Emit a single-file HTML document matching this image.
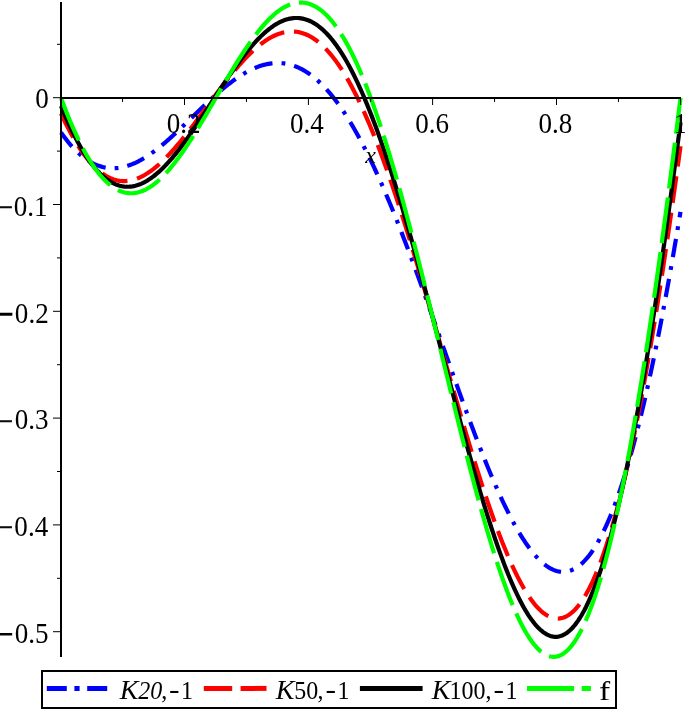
<!DOCTYPE html>
<html><head><meta charset="utf-8"><title>plot</title>
<style>
html,body{margin:0;padding:0;background:#fff;}
body{width:685px;height:709px;overflow:hidden;}
svg{display:block;}
text{font-family:"Liberation Serif","Times New Roman",serif;fill:#000;}
.i{font-style:italic;}
</style></head><body>
<svg width="685" height="709" viewBox="0 0 685 709">
<rect width="685" height="709" fill="#fff"/>

<g fill="none" stroke-linecap="butt" stroke-linejoin="round" stroke-width="4.2">
<path d="M61.00,132.52 L62.55,134.70 L64.10,136.81 L65.65,138.85 L67.19,140.82 L68.74,142.72 L70.29,144.55 L71.84,146.30 L73.39,147.99 L74.94,149.60 L76.49,151.15 L78.04,152.62 L79.59,154.03 L81.13,155.36 L82.68,156.63 L84.23,157.83 L85.78,158.96 L87.33,160.02 L88.88,161.01 L90.43,161.94 L91.97,162.80 L93.52,163.60 L95.07,164.32 L96.62,164.99 L98.17,165.59 L99.72,166.13 L101.27,166.60 L102.82,167.02 L104.37,167.37 L105.91,167.66 L107.46,167.89 L109.01,168.06 L110.56,168.18 L112.11,168.23 L113.66,168.23 L115.21,168.18 L116.75,168.07 L118.30,167.90 L119.85,167.68 L121.40,167.41 L122.95,167.09 L124.50,166.72 L126.05,166.30 L127.60,165.83 L129.14,165.32 L130.69,164.75 L132.24,164.15 L133.79,163.49 L135.34,162.80 L136.89,162.06 L138.44,161.28 L139.99,160.47 L141.53,159.61 L143.08,158.71 L144.63,157.78 L146.18,156.81 L147.73,155.81 L149.28,154.77 L150.83,153.70 L152.38,152.60 L153.93,151.47 L155.47,150.32 L157.02,149.13 L158.57,147.91 L160.12,146.68 L161.67,145.41 L163.22,144.13 L164.77,142.82 L166.31,141.49 L167.86,140.14 L169.41,138.77 L170.96,137.38 L172.51,135.98 L174.06,134.57 L175.61,133.14 L177.16,131.69 L178.70,130.24 L180.25,128.77 L181.80,127.30 L183.35,125.81 L184.90,124.32 L186.45,122.83 L188.00,121.33 L189.55,119.83 L191.09,118.32 L192.64,116.81 L194.19,115.31 L195.74,113.80 L197.29,112.30 L198.84,110.80 L200.39,109.31 L201.94,107.82 L203.49,106.33 L205.03,104.86 L206.58,103.39 L208.13,101.94 L209.68,100.50 L211.23,99.06 L212.78,97.65 L214.33,96.24 L215.88,94.85 L217.42,93.48 L218.97,92.13 L220.52,90.79 L222.07,89.48 L223.62,88.18 L225.17,86.91 L226.72,85.66 L228.27,84.43 L229.81,83.23 L231.36,82.06 L232.91,80.91 L234.46,79.78 L236.01,78.69 L237.56,77.63 L239.11,76.59 L240.66,75.59 L242.20,74.62 L243.75,73.68 L245.30,72.78 L246.85,71.91 L248.40,71.08 L249.95,70.28 L251.50,69.52 L253.04,68.80 L254.59,68.12 L256.14,67.47 L257.69,66.87 L259.24,66.31 L260.79,65.79 L262.34,65.31 L263.89,64.88 L265.44,64.48 L266.98,64.14 L268.53,63.84 L270.08,63.58 L271.63,63.37 L273.18,63.21 L274.73,63.09 L276.28,63.02 L277.83,63.01 L279.37,63.04 L280.92,63.12 L282.47,63.25 L284.02,63.43 L285.57,63.66 L287.12,63.94 L288.67,64.28 L290.22,64.67 L291.76,65.11 L293.31,65.60 L294.86,66.14 L296.41,66.75 L297.96,67.40 L299.51,68.11 L301.06,68.87 L302.61,69.69 L304.15,70.56 L305.70,71.49 L307.25,72.47 L308.80,73.51 L310.35,74.61 L311.90,75.76 L313.45,76.97 L315.00,78.23 L316.54,79.55 L318.09,80.93 L319.64,82.36 L321.19,83.85 L322.74,85.40 L324.29,87.00 L325.84,88.66 L327.38,90.37 L328.93,92.14 L330.48,93.97 L332.03,95.85 L333.58,97.79 L335.13,99.79 L336.68,101.84 L338.23,103.94 L339.78,106.10 L341.32,108.32 L342.87,110.59 L344.42,112.91 L345.97,115.29 L347.52,117.73 L349.07,120.21 L350.62,122.75 L352.17,125.34 L353.71,127.99 L355.26,130.68 L356.81,133.43 L358.36,136.23 L359.91,139.08 L361.46,141.98 L363.01,144.93 L364.56,147.93 L366.10,150.97 L367.65,154.07 L369.20,157.21 L370.75,160.40 L372.30,163.63 L373.85,166.91 L375.40,170.24 L376.94,173.61 L378.49,177.02 L380.04,180.47 L381.59,183.97 L383.14,187.51 L384.69,191.09 L386.24,194.71 L387.79,198.37 L389.34,202.06 L390.88,205.79 L392.43,209.56 L393.98,213.37 L395.53,217.21 L397.08,221.08 L398.63,224.99 L400.18,228.93 L401.73,232.89 L403.27,236.89 L404.82,240.92 L406.37,244.98 L407.92,249.06 L409.47,253.17 L411.02,257.30 L412.57,261.46 L414.12,265.64 L415.66,269.84 L417.21,274.06 L418.76,278.30 L420.31,282.56 L421.86,286.84 L423.41,291.13 L424.96,295.44 L426.50,299.76 L428.05,304.09 L429.60,308.43 L431.15,312.79 L432.70,317.15 L434.25,321.52 L435.80,325.90 L437.35,330.28 L438.89,334.66 L440.44,339.05 L441.99,343.44 L443.54,347.83 L445.09,352.21 L446.64,356.60 L448.19,360.98 L449.74,365.35 L451.29,369.72 L452.83,374.07 L454.38,378.42 L455.93,382.76 L457.48,387.08 L459.03,391.39 L460.58,395.69 L462.13,399.97 L463.68,404.23 L465.22,408.47 L466.77,412.69 L468.32,416.88 L469.87,421.05 L471.42,425.20 L472.97,429.32 L474.52,433.41 L476.06,437.48 L477.61,441.51 L479.16,445.50 L480.71,449.47 L482.26,453.39 L483.81,457.29 L485.36,461.14 L486.91,464.95 L488.46,468.72 L490.00,472.44 L491.55,476.13 L493.10,479.76 L494.65,483.35 L496.20,486.89 L497.75,490.38 L499.30,493.81 L500.84,497.19 L502.39,500.52 L503.94,503.79 L505.49,507.00 L507.04,510.16 L508.59,513.25 L510.14,516.28 L511.69,519.24 L513.24,522.14 L514.78,524.97 L516.33,527.74 L517.88,530.43 L519.43,533.05 L520.98,535.60 L522.53,538.08 L524.08,540.48 L525.62,542.80 L527.17,545.04 L528.72,547.21 L530.27,549.29 L531.82,551.29 L533.37,553.21 L534.92,555.04 L536.47,556.78 L538.01,558.44 L539.56,560.00 L541.11,561.48 L542.66,562.86 L544.21,564.15 L545.76,565.34 L547.31,566.44 L548.86,567.44 L550.40,568.34 L551.95,569.14 L553.50,569.85 L555.05,570.44 L556.60,570.94 L558.15,571.33 L559.70,571.61 L561.25,571.79 L562.80,571.86 L564.34,571.82 L565.89,571.67 L567.44,571.41 L568.99,571.03 L570.54,570.54 L572.09,569.94 L573.64,569.22 L575.19,568.39 L576.73,567.43 L578.28,566.36 L579.83,565.17 L581.38,563.86 L582.93,562.43 L584.48,560.87 L586.03,559.19 L587.57,557.39 L589.12,555.46 L590.67,553.41 L592.22,551.23 L593.77,548.93 L595.32,546.50 L596.87,543.94 L598.42,541.25 L599.97,538.43 L601.51,535.48 L603.06,532.41 L604.61,529.20 L606.16,525.86 L607.71,522.38 L609.26,518.78 L610.81,515.04 L612.36,511.17 L613.90,507.17 L615.45,503.03 L617.00,498.76 L618.55,494.36 L620.10,489.82 L621.65,485.15 L623.20,480.34 L624.75,475.40 L626.29,470.32 L627.84,465.11 L629.39,459.77 L630.94,454.29 L632.49,448.68 L634.04,442.94 L635.59,437.06 L637.13,431.05 L638.68,424.90 L640.23,418.63 L641.78,412.22 L643.33,405.68 L644.88,399.01 L646.43,392.21 L647.98,385.28 L649.53,378.22 L651.07,371.04 L652.62,363.72 L654.17,356.29 L655.72,348.72 L657.27,341.04 L658.82,333.23 L660.37,325.29 L661.91,317.24 L663.46,309.07 L665.01,300.78 L666.56,292.38 L668.11,283.86 L669.66,275.23 L671.21,266.49 L672.76,257.64 L674.30,248.68 L675.85,239.61 L677.40,230.45 L678.95,221.18 L680.50,211.81" stroke="#0000ff" stroke-dasharray="18.5 9.072 3.8 9.072" stroke-dashoffset="0.7"/>
<path d="M61.00,113.47 L62.55,116.80 L64.10,120.05 L65.65,123.22 L67.19,126.30 L68.74,129.31 L70.29,132.24 L71.84,135.08 L73.39,137.83 L74.94,140.50 L76.49,143.09 L78.04,145.59 L79.59,148.00 L81.13,150.33 L82.68,152.57 L84.23,154.73 L85.78,156.79 L87.33,158.77 L88.88,160.67 L90.43,162.47 L91.97,164.19 L93.52,165.83 L95.07,167.37 L96.62,168.84 L98.17,170.21 L99.72,171.51 L101.27,172.71 L102.82,173.84 L104.37,174.88 L105.91,175.83 L107.46,176.71 L109.01,177.50 L110.56,178.21 L112.11,178.84 L113.66,179.39 L115.21,179.86 L116.75,180.26 L118.30,180.57 L119.85,180.81 L121.40,180.97 L122.95,181.06 L124.50,181.08 L126.05,181.02 L127.60,180.89 L129.14,180.68 L130.69,180.41 L132.24,180.07 L133.79,179.66 L135.34,179.18 L136.89,178.64 L138.44,178.03 L139.99,177.36 L141.53,176.63 L143.08,175.83 L144.63,174.98 L146.18,174.06 L147.73,173.09 L149.28,172.06 L150.83,170.98 L152.38,169.84 L153.93,168.65 L155.47,167.41 L157.02,166.12 L158.57,164.78 L160.12,163.39 L161.67,161.96 L163.22,160.48 L164.77,158.96 L166.31,157.40 L167.86,155.80 L169.41,154.16 L170.96,152.48 L172.51,150.77 L174.06,149.02 L175.61,147.24 L177.16,145.43 L178.70,143.59 L180.25,141.72 L181.80,139.83 L183.35,137.91 L184.90,135.96 L186.45,134.00 L188.00,132.01 L189.55,130.01 L191.09,127.98 L192.64,125.95 L194.19,123.90 L195.74,121.83 L197.29,119.76 L198.84,117.67 L200.39,115.58 L201.94,113.48 L203.49,111.37 L205.03,109.27 L206.58,107.16 L208.13,105.05 L209.68,102.94 L211.23,100.84 L212.78,98.74 L214.33,96.65 L215.88,94.56 L217.42,92.48 L218.97,90.42 L220.52,88.37 L222.07,86.33 L223.62,84.30 L225.17,82.30 L226.72,80.31 L228.27,78.34 L229.81,76.40 L231.36,74.47 L232.91,72.57 L234.46,70.70 L236.01,68.85 L237.56,67.04 L239.11,65.25 L240.66,63.49 L242.20,61.77 L243.75,60.08 L245.30,58.43 L246.85,56.82 L248.40,55.24 L249.95,53.70 L251.50,52.20 L253.04,50.75 L254.59,49.34 L256.14,47.97 L257.69,46.65 L259.24,45.38 L260.79,44.15 L262.34,42.98 L263.89,41.86 L265.44,40.78 L266.98,39.76 L268.53,38.80 L270.08,37.89 L271.63,37.03 L273.18,36.24 L274.73,35.50 L276.28,34.82 L277.83,34.20 L279.37,33.64 L280.92,33.15 L282.47,32.71 L284.02,32.35 L285.57,32.04 L287.12,31.80 L288.67,31.63 L290.22,31.52 L291.76,31.48 L293.31,31.51 L294.86,31.61 L296.41,31.78 L297.96,32.02 L299.51,32.33 L301.06,32.71 L302.61,33.17 L304.15,33.69 L305.70,34.29 L307.25,34.97 L308.80,35.71 L310.35,36.54 L311.90,37.43 L313.45,38.40 L315.00,39.45 L316.54,40.57 L318.09,41.77 L319.64,43.05 L321.19,44.40 L322.74,45.82 L324.29,47.33 L325.84,48.91 L327.38,50.57 L328.93,52.30 L330.48,54.11 L332.03,56.00 L333.58,57.97 L335.13,60.01 L336.68,62.13 L338.23,64.32 L339.78,66.59 L341.32,68.94 L342.87,71.36 L344.42,73.86 L345.97,76.44 L347.52,79.09 L349.07,81.81 L350.62,84.61 L352.17,87.48 L353.71,90.42 L355.26,93.44 L356.81,96.53 L358.36,99.69 L359.91,102.92 L361.46,106.23 L363.01,109.60 L364.56,113.04 L366.10,116.55 L367.65,120.13 L369.20,123.77 L370.75,127.49 L372.30,131.26 L373.85,135.10 L375.40,139.01 L376.94,142.98 L378.49,147.01 L380.04,151.10 L381.59,155.25 L383.14,159.46 L384.69,163.72 L386.24,168.05 L387.79,172.42 L389.34,176.86 L390.88,181.34 L392.43,185.88 L393.98,190.47 L395.53,195.11 L397.08,199.80 L398.63,204.53 L400.18,209.31 L401.73,214.14 L403.27,219.00 L404.82,223.91 L406.37,228.86 L407.92,233.85 L409.47,238.87 L411.02,243.93 L412.57,249.03 L414.12,254.16 L415.66,259.32 L417.21,264.50 L418.76,269.72 L420.31,274.96 L421.86,280.23 L423.41,285.52 L424.96,290.83 L426.50,296.16 L428.05,301.51 L429.60,306.88 L431.15,312.26 L432.70,317.65 L434.25,323.05 L435.80,328.47 L437.35,333.89 L438.89,339.31 L440.44,344.74 L441.99,350.17 L443.54,355.60 L445.09,361.03 L446.64,366.46 L448.19,371.87 L449.74,377.28 L451.29,382.69 L452.83,388.08 L454.38,393.45 L455.93,398.81 L457.48,404.15 L459.03,409.48 L460.58,414.78 L462.13,420.06 L463.68,425.31 L465.22,430.54 L466.77,435.73 L468.32,440.90 L469.87,446.03 L471.42,451.12 L472.97,456.18 L474.52,461.20 L476.06,466.17 L477.61,471.10 L479.16,475.99 L480.71,480.83 L482.26,485.62 L483.81,490.35 L485.36,495.04 L486.91,499.66 L488.46,504.23 L490.00,508.74 L491.55,513.19 L493.10,517.57 L494.65,521.88 L496.20,526.13 L497.75,530.31 L499.30,534.42 L500.84,538.45 L502.39,542.40 L503.94,546.28 L505.49,550.08 L507.04,553.79 L508.59,557.42 L510.14,560.97 L511.69,564.43 L513.24,567.80 L514.78,571.07 L516.33,574.26 L517.88,577.35 L519.43,580.34 L520.98,583.23 L522.53,586.02 L524.08,588.71 L525.62,591.30 L527.17,593.77 L528.72,596.14 L530.27,598.41 L531.82,600.56 L533.37,602.59 L534.92,604.52 L536.47,606.32 L538.01,608.01 L539.56,609.58 L541.11,611.03 L542.66,612.35 L544.21,613.56 L545.76,614.63 L547.31,615.58 L548.86,616.40 L550.40,617.09 L551.95,617.65 L553.50,618.08 L555.05,618.37 L556.60,618.53 L558.15,618.55 L559.70,618.43 L561.25,618.18 L562.80,617.78 L564.34,617.25 L565.89,616.57 L567.44,615.74 L568.99,614.78 L570.54,613.66 L572.09,612.40 L573.64,611.00 L575.19,609.44 L576.73,607.74 L578.28,605.88 L579.83,603.88 L581.38,601.72 L582.93,599.41 L584.48,596.94 L586.03,594.33 L587.57,591.56 L589.12,588.63 L590.67,585.55 L592.22,582.31 L593.77,578.91 L595.32,575.36 L596.87,571.65 L598.42,567.79 L599.97,563.76 L601.51,559.58 L603.06,555.24 L604.61,550.74 L606.16,546.08 L607.71,541.26 L609.26,536.29 L610.81,531.15 L612.36,525.86 L613.90,520.41 L615.45,514.80 L617.00,509.03 L618.55,503.10 L620.10,497.02 L621.65,490.77 L623.20,484.37 L624.75,477.82 L626.29,471.11 L627.84,464.24 L629.39,457.21 L630.94,450.04 L632.49,442.71 L634.04,435.22 L635.59,427.59 L637.13,419.80 L638.68,411.86 L640.23,403.77 L641.78,395.54 L643.33,387.15 L644.88,378.62 L646.43,369.95 L647.98,361.13 L649.53,352.17 L651.07,343.07 L652.62,333.83 L654.17,324.46 L655.72,314.95 L657.27,305.30 L658.82,295.52 L660.37,285.62 L661.91,275.58 L663.46,265.42 L665.01,255.14 L666.56,244.74 L668.11,234.22 L669.66,223.59 L671.21,212.85 L672.76,202.01 L674.30,191.06 L675.85,180.01 L677.40,168.87 L678.95,157.64 L680.50,146.32" stroke="#ff0000" stroke-dasharray="26.9 9.86"/>
<path d="M61.00,105.98 L62.55,109.72 L64.10,113.38 L65.65,116.96 L67.19,120.45 L68.74,123.86 L70.29,127.19 L71.84,130.42 L73.39,133.57 L74.94,136.63 L76.49,139.60 L78.04,142.47 L79.59,145.26 L81.13,147.96 L82.68,150.56 L84.23,153.08 L85.78,155.50 L87.33,157.83 L88.88,160.06 L90.43,162.21 L91.97,164.26 L93.52,166.22 L95.07,168.09 L96.62,169.87 L98.17,171.56 L99.72,173.15 L101.27,174.66 L102.82,176.07 L104.37,177.39 L105.91,178.63 L107.46,179.77 L109.01,180.82 L110.56,181.79 L112.11,182.67 L113.66,183.46 L115.21,184.17 L116.75,184.78 L118.30,185.32 L119.85,185.76 L121.40,186.13 L122.95,186.41 L124.50,186.61 L126.05,186.72 L127.60,186.76 L129.14,186.71 L130.69,186.59 L132.24,186.39 L133.79,186.11 L135.34,185.76 L136.89,185.33 L138.44,184.83 L139.99,184.25 L141.53,183.60 L143.08,182.88 L144.63,182.10 L146.18,181.24 L147.73,180.32 L149.28,179.33 L150.83,178.28 L152.38,177.16 L153.93,175.99 L155.47,174.75 L157.02,173.45 L158.57,172.10 L160.12,170.69 L161.67,169.22 L163.22,167.71 L164.77,166.14 L166.31,164.52 L167.86,162.85 L169.41,161.13 L170.96,159.37 L172.51,157.56 L174.06,155.71 L175.61,153.82 L177.16,151.89 L178.70,149.93 L180.25,147.92 L181.80,145.88 L183.35,143.81 L184.90,141.71 L186.45,139.58 L188.00,137.42 L189.55,135.24 L191.09,133.03 L192.64,130.79 L194.19,128.54 L195.74,126.27 L197.29,123.98 L198.84,121.67 L200.39,119.35 L201.94,117.02 L203.49,114.68 L205.03,112.33 L206.58,109.97 L208.13,107.60 L209.68,105.24 L211.23,102.87 L212.78,100.50 L214.33,98.13 L215.88,95.77 L217.42,93.41 L218.97,91.06 L220.52,88.71 L222.07,86.38 L223.62,84.06 L225.17,81.75 L226.72,79.46 L228.27,77.19 L229.81,74.93 L231.36,72.70 L232.91,70.49 L234.46,68.30 L236.01,66.14 L237.56,64.01 L239.11,61.90 L240.66,59.83 L242.20,57.79 L243.75,55.78 L245.30,53.81 L246.85,51.87 L248.40,49.98 L249.95,48.12 L251.50,46.31 L253.04,44.54 L254.59,42.81 L256.14,41.13 L257.69,39.50 L259.24,37.92 L260.79,36.38 L262.34,34.90 L263.89,33.47 L265.44,32.10 L266.98,30.78 L268.53,29.52 L270.08,28.32 L271.63,27.18 L273.18,26.10 L274.73,25.08 L276.28,24.13 L277.83,23.24 L279.37,22.41 L280.92,21.65 L282.47,20.97 L284.02,20.34 L285.57,19.79 L287.12,19.31 L288.67,18.91 L290.22,18.57 L291.76,18.31 L293.31,18.12 L294.86,18.01 L296.41,17.98 L297.96,18.02 L299.51,18.14 L301.06,18.34 L302.61,18.61 L304.15,18.97 L305.70,19.41 L307.25,19.93 L308.80,20.53 L310.35,21.21 L311.90,21.98 L313.45,22.83 L315.00,23.76 L316.54,24.78 L318.09,25.88 L319.64,27.06 L321.19,28.34 L322.74,29.69 L324.29,31.13 L325.84,32.66 L327.38,34.27 L328.93,35.97 L330.48,37.75 L332.03,39.62 L333.58,41.58 L335.13,43.62 L336.68,45.75 L338.23,47.96 L339.78,50.26 L341.32,52.64 L342.87,55.11 L344.42,57.67 L345.97,60.30 L347.52,63.03 L349.07,65.83 L350.62,68.72 L352.17,71.70 L353.71,74.75 L355.26,77.89 L356.81,81.11 L358.36,84.41 L359.91,87.79 L361.46,91.25 L363.01,94.78 L364.56,98.40 L366.10,102.09 L367.65,105.86 L369.20,109.71 L370.75,113.63 L372.30,117.62 L373.85,121.69 L375.40,125.83 L376.94,130.04 L378.49,134.32 L380.04,138.67 L381.59,143.09 L383.14,147.57 L384.69,152.12 L386.24,156.73 L387.79,161.41 L389.34,166.15 L390.88,170.94 L392.43,175.80 L393.98,180.72 L395.53,185.69 L397.08,190.71 L398.63,195.79 L400.18,200.92 L401.73,206.10 L403.27,211.33 L404.82,216.61 L406.37,221.93 L407.92,227.29 L409.47,232.70 L411.02,238.15 L412.57,243.64 L414.12,249.16 L415.66,254.72 L417.21,260.31 L418.76,265.94 L420.31,271.59 L421.86,277.27 L423.41,282.98 L424.96,288.71 L426.50,294.47 L428.05,300.24 L429.60,306.04 L431.15,311.85 L432.70,317.67 L434.25,323.50 L435.80,329.35 L437.35,335.20 L438.89,341.07 L440.44,346.93 L441.99,352.79 L443.54,358.66 L445.09,364.52 L446.64,370.38 L448.19,376.23 L449.74,382.08 L451.29,387.91 L452.83,393.73 L454.38,399.53 L455.93,405.31 L457.48,411.08 L459.03,416.82 L460.58,422.54 L462.13,428.23 L463.68,433.89 L465.22,439.52 L466.77,445.12 L468.32,450.68 L469.87,456.20 L471.42,461.68 L472.97,467.12 L474.52,472.52 L476.06,477.87 L477.61,483.16 L479.16,488.41 L480.71,493.60 L482.26,498.74 L483.81,503.81 L485.36,508.83 L486.91,513.78 L488.46,518.67 L490.00,523.49 L491.55,528.23 L493.10,532.91 L494.65,537.51 L496.20,542.04 L497.75,546.49 L499.30,550.85 L500.84,555.13 L502.39,559.33 L503.94,563.44 L505.49,567.46 L507.04,571.39 L508.59,575.22 L510.14,578.96 L511.69,582.59 L513.24,586.13 L514.78,589.57 L516.33,592.90 L517.88,596.13 L519.43,599.24 L520.98,602.25 L522.53,605.14 L524.08,607.92 L525.62,610.59 L527.17,613.13 L528.72,615.56 L530.27,617.86 L531.82,620.04 L533.37,622.10 L534.92,624.03 L536.47,625.83 L538.01,627.50 L539.56,629.04 L541.11,630.44 L542.66,631.71 L544.21,632.84 L545.76,633.83 L547.31,634.69 L548.86,635.40 L550.40,635.97 L551.95,636.39 L553.50,636.67 L555.05,636.80 L556.60,636.79 L558.15,636.62 L559.70,636.31 L561.25,635.84 L562.80,635.22 L564.34,634.45 L565.89,633.52 L567.44,632.43 L568.99,631.19 L570.54,629.79 L572.09,628.23 L573.64,626.51 L575.19,624.63 L576.73,622.59 L578.28,620.39 L579.83,618.02 L581.38,615.49 L582.93,612.80 L584.48,609.94 L586.03,606.92 L587.57,603.73 L589.12,600.37 L590.67,596.85 L592.22,593.17 L593.77,589.31 L595.32,585.29 L596.87,581.10 L598.42,576.75 L599.97,572.23 L601.51,567.54 L603.06,562.68 L604.61,557.66 L606.16,552.46 L607.71,547.11 L609.26,541.58 L610.81,535.89 L612.36,530.03 L613.90,524.01 L615.45,517.82 L617.00,511.47 L618.55,504.95 L620.10,498.27 L621.65,491.42 L623.20,484.42 L624.75,477.25 L626.29,469.92 L627.84,462.43 L629.39,454.78 L630.94,446.98 L632.49,439.01 L634.04,430.89 L635.59,422.62 L637.13,414.19 L638.68,405.61 L640.23,396.88 L641.78,388.00 L643.33,378.97 L644.88,369.79 L646.43,360.47 L647.98,351.00 L649.53,341.39 L651.07,331.64 L652.62,321.75 L654.17,311.72 L655.72,301.56 L657.27,291.27 L658.82,280.84 L660.37,270.28 L661.91,259.60 L663.46,248.79 L665.01,237.86 L666.56,226.81 L668.11,215.64 L669.66,204.36 L671.21,192.97 L672.76,181.48 L674.30,169.88 L675.85,158.19 L677.40,146.40 L678.95,134.53 L680.50,122.59" stroke="#000000"/>
<path d="M61.00,97.90 L62.55,102.05 L64.10,106.12 L65.65,110.10 L67.19,113.99 L68.74,117.80 L70.29,121.52 L71.84,125.15 L73.39,128.69 L74.94,132.13 L76.49,135.49 L78.04,138.76 L79.59,141.93 L81.13,145.01 L82.68,147.99 L84.23,150.88 L85.78,153.68 L87.33,156.38 L88.88,158.98 L90.43,161.49 L91.97,163.91 L93.52,166.22 L95.07,168.45 L96.62,170.57 L98.17,172.60 L99.72,174.53 L101.27,176.37 L102.82,178.11 L104.37,179.75 L105.91,181.30 L107.46,182.75 L109.01,184.11 L110.56,185.37 L112.11,186.53 L113.66,187.60 L115.21,188.58 L116.75,189.46 L118.30,190.25 L119.85,190.95 L121.40,191.55 L122.95,192.06 L124.50,192.48 L126.05,192.81 L127.60,193.06 L129.14,193.21 L130.69,193.27 L132.24,193.25 L133.79,193.14 L135.34,192.94 L136.89,192.66 L138.44,192.30 L139.99,191.85 L141.53,191.32 L143.08,190.72 L144.63,190.03 L146.18,189.26 L147.73,188.42 L149.28,187.50 L150.83,186.51 L152.38,185.44 L153.93,184.30 L155.47,183.09 L157.02,181.82 L158.57,180.47 L160.12,179.06 L161.67,177.58 L163.22,176.04 L164.77,174.44 L166.31,172.77 L167.86,171.05 L169.41,169.27 L170.96,167.43 L172.51,165.54 L174.06,163.60 L175.61,161.61 L177.16,159.57 L178.70,157.48 L180.25,155.35 L181.80,153.17 L183.35,150.95 L184.90,148.69 L186.45,146.39 L188.00,144.05 L189.55,141.68 L191.09,139.28 L192.64,136.84 L194.19,134.38 L195.74,131.89 L197.29,129.37 L198.84,126.83 L200.39,124.27 L201.94,121.69 L203.49,119.09 L205.03,116.48 L206.58,113.85 L208.13,111.21 L209.68,108.56 L211.23,105.90 L212.78,103.24 L214.33,100.57 L215.88,97.90 L217.42,95.23 L218.97,92.56 L220.52,89.90 L222.07,87.24 L223.62,84.59 L225.17,81.95 L226.72,79.32 L228.27,76.71 L229.81,74.11 L231.36,71.53 L232.91,68.97 L234.46,66.43 L236.01,63.91 L237.56,61.42 L239.11,58.96 L240.66,56.52 L242.20,54.12 L243.75,51.75 L245.30,49.41 L246.85,47.11 L248.40,44.85 L249.95,42.63 L251.50,40.45 L253.04,38.32 L254.59,36.23 L256.14,34.19 L257.69,32.20 L259.24,30.26 L260.79,28.37 L262.34,26.53 L263.89,24.75 L265.44,23.03 L266.98,21.36 L268.53,19.76 L270.08,18.22 L271.63,16.74 L273.18,15.33 L274.73,13.98 L276.28,12.71 L277.83,11.50 L279.37,10.36 L280.92,9.29 L282.47,8.30 L284.02,7.38 L285.57,6.54 L287.12,5.77 L288.67,5.08 L290.22,4.48 L291.76,3.95 L293.31,3.50 L294.86,3.14 L296.41,2.86 L297.96,2.66 L299.51,2.55 L301.06,2.53 L302.61,2.59 L304.15,2.74 L305.70,2.99 L307.25,3.32 L308.80,3.74 L310.35,4.25 L311.90,4.85 L313.45,5.55 L315.00,6.34 L316.54,7.22 L318.09,8.20 L319.64,9.27 L321.19,10.43 L322.74,11.69 L324.29,13.05 L325.84,14.50 L327.38,16.05 L328.93,17.69 L330.48,19.43 L332.03,21.27 L333.58,23.20 L335.13,25.23 L336.68,27.35 L338.23,29.58 L339.78,31.89 L341.32,34.31 L342.87,36.82 L344.42,39.42 L345.97,42.12 L347.52,44.92 L349.07,47.81 L350.62,50.79 L352.17,53.87 L353.71,57.04 L355.26,60.31 L356.81,63.67 L358.36,67.11 L359.91,70.65 L361.46,74.28 L363.01,78.00 L364.56,81.81 L366.10,85.70 L367.65,89.68 L369.20,93.75 L370.75,97.90 L372.30,102.14 L373.85,106.45 L375.40,110.85 L376.94,115.34 L378.49,119.90 L380.04,124.53 L381.59,129.25 L383.14,134.04 L384.69,138.91 L386.24,143.84 L387.79,148.85 L389.34,153.93 L390.88,159.08 L392.43,164.30 L393.98,169.58 L395.53,174.92 L397.08,180.33 L398.63,185.80 L400.18,191.33 L401.73,196.91 L403.27,202.55 L404.82,208.24 L406.37,213.98 L407.92,219.78 L409.47,225.62 L411.02,231.51 L412.57,237.44 L414.12,243.41 L415.66,249.43 L417.21,255.48 L418.76,261.57 L420.31,267.69 L421.86,273.84 L423.41,280.02 L424.96,286.23 L426.50,292.47 L428.05,298.73 L429.60,305.01 L431.15,311.30 L432.70,317.61 L434.25,323.94 L435.80,330.28 L437.35,336.62 L438.89,342.98 L440.44,349.33 L441.99,355.69 L443.54,362.05 L445.09,368.41 L446.64,374.75 L448.19,381.10 L449.74,387.43 L451.29,393.74 L452.83,400.05 L454.38,406.33 L455.93,412.59 L457.48,418.83 L459.03,425.05 L460.58,431.23 L462.13,437.39 L463.68,443.51 L465.22,449.60 L466.77,455.65 L468.32,461.65 L469.87,467.61 L471.42,473.53 L472.97,479.40 L474.52,485.21 L476.06,490.98 L477.61,496.68 L479.16,502.33 L480.71,507.91 L482.26,513.43 L483.81,518.89 L485.36,524.27 L486.91,529.58 L488.46,534.82 L490.00,539.98 L491.55,545.06 L493.10,550.06 L494.65,554.98 L496.20,559.81 L497.75,564.55 L499.30,569.19 L500.84,573.75 L502.39,578.20 L503.94,582.56 L505.49,586.82 L507.04,590.97 L508.59,595.02 L510.14,598.95 L511.69,602.78 L513.24,606.50 L514.78,610.10 L516.33,613.58 L517.88,616.95 L519.43,620.19 L520.98,623.31 L522.53,626.30 L524.08,629.16 L525.62,631.90 L527.17,634.50 L528.72,636.97 L530.27,639.31 L531.82,641.51 L533.37,643.56 L534.92,645.48 L536.47,647.25 L538.01,648.88 L539.56,650.36 L541.11,651.70 L542.66,652.88 L544.21,653.91 L545.76,654.79 L547.31,655.52 L548.86,656.09 L550.40,656.50 L551.95,656.75 L553.50,656.85 L555.05,656.78 L556.60,656.55 L558.15,656.16 L559.70,655.60 L561.25,654.87 L562.80,653.98 L564.34,652.92 L565.89,651.69 L567.44,650.29 L568.99,648.72 L570.54,646.98 L572.09,645.07 L573.64,642.98 L575.19,640.72 L576.73,638.28 L578.28,635.67 L579.83,632.89 L581.38,629.93 L582.93,626.79 L584.48,623.48 L586.03,619.99 L587.57,616.32 L589.12,612.47 L590.67,608.45 L592.22,604.25 L593.77,599.87 L595.32,595.32 L596.87,590.59 L598.42,585.68 L599.97,580.59 L601.51,575.33 L603.06,569.89 L604.61,564.28 L606.16,558.49 L607.71,552.53 L609.26,546.39 L610.81,540.08 L612.36,533.59 L613.90,526.94 L615.45,520.11 L617.00,513.11 L618.55,505.94 L620.10,498.60 L621.65,491.10 L623.20,483.43 L624.75,475.59 L626.29,467.59 L627.84,459.43 L629.39,451.11 L630.94,442.62 L632.49,433.98 L634.04,425.18 L635.59,416.23 L637.13,407.12 L638.68,397.86 L640.23,388.45 L641.78,378.89 L643.33,369.18 L644.88,359.33 L646.43,349.33 L647.98,339.20 L649.53,328.92 L651.07,318.51 L652.62,307.96 L654.17,297.29 L655.72,286.48 L657.27,275.54 L658.82,264.48 L660.37,253.29 L661.91,241.99 L663.46,230.57 L665.01,219.03 L666.56,207.38 L668.11,195.61 L669.66,183.75 L671.21,171.77 L672.76,159.70 L674.30,147.52 L675.85,135.25 L677.40,122.89 L678.95,110.44 L680.50,97.90" stroke="#00ff00" stroke-dasharray="46.1 9.05"/>
</g>
<g fill="#000" shape-rendering="crispEdges">
<rect x="60" y="2" width="2" height="655"/>
<rect x="60" y="97" width="621" height="2"/>
</g>
<g fill="#000">
<rect x="122.05" y="99" width="1" height="3"/>
<rect x="184.00" y="99" width="1" height="6"/>
<rect x="245.95" y="99" width="1" height="3"/>
<rect x="307.90" y="99" width="1" height="6"/>
<rect x="370.15" y="99" width="1" height="3"/>
<rect x="432.10" y="99" width="1" height="6"/>
<rect x="494.05" y="99" width="1" height="3"/>
<rect x="556.00" y="99" width="1" height="6"/>
<rect x="617.95" y="99" width="1" height="3"/>
<rect x="680.00" y="99" width="1" height="6"/>
<rect x="57" y="43.80" width="3" height="1"/>
<rect x="53" y="97.20" width="7" height="1"/>
<rect x="57" y="150.60" width="3" height="1"/>
<rect x="53" y="204.00" width="7" height="1"/>
<rect x="57" y="257.40" width="3" height="1"/>
<rect x="53" y="310.80" width="7" height="1"/>
<rect x="57" y="364.20" width="3" height="1"/>
<rect x="53" y="417.60" width="7" height="1"/>
<rect x="57" y="471.00" width="3" height="1"/>
<rect x="53" y="524.40" width="7" height="1"/>
<rect x="57" y="577.80" width="3" height="1"/>
<rect x="53" y="631.20" width="7" height="1"/>
</g>
<text transform="translate(183.70,133.20) scale(0.967,1.061)" font-size="28" text-anchor="middle">0.2</text>
<text transform="translate(306.90,133.20) scale(0.967,1.061)" font-size="28" text-anchor="middle">0.4</text>
<text transform="translate(432.15,133.20) scale(0.967,1.061)" font-size="28" text-anchor="middle">0.6</text>
<text transform="translate(555.30,133.20) scale(0.967,1.061)" font-size="28" text-anchor="middle">0.8</text>
<text transform="translate(680.50,133.20) scale(0.967,1.061)" font-size="28" text-anchor="middle">1</text>
<text class="i" transform="translate(370.60,163.10) scale(1.0,0.95)" font-size="24" text-anchor="middle">x</text>
<text transform="translate(48.90,107.50) scale(0.967,1.061)" font-size="28" text-anchor="end">0</text>
<text transform="translate(47.60,215.80) scale(0.967,1.061)" font-size="28" text-anchor="end">0.1</text>
<text transform="translate(-2.00,217.00) scale(0.967,1.061)" font-size="28" text-anchor="start" stroke="#000" stroke-width="0.5">−</text>
<text transform="translate(48.70,322.60) scale(0.967,1.061)" font-size="28" text-anchor="end">0.2</text>
<text transform="translate(-2.00,323.80) scale(0.967,1.061)" font-size="28" text-anchor="start" stroke="#000" stroke-width="1.3">−</text>
<text transform="translate(48.50,429.40) scale(0.967,1.061)" font-size="28" text-anchor="end">0.3</text>
<text transform="translate(-2.00,430.60) scale(0.967,1.061)" font-size="28" text-anchor="start" stroke="#000" stroke-width="0.5">−</text>
<text transform="translate(48.20,536.20) scale(0.967,1.061)" font-size="28" text-anchor="end">0.4</text>
<text transform="translate(-2.00,537.40) scale(0.967,1.061)" font-size="28" text-anchor="start" stroke="#000" stroke-width="0.5">−</text>
<text transform="translate(48.60,643.00) scale(0.967,1.061)" font-size="28" text-anchor="end">0.5</text>
<text transform="translate(-2.00,644.20) scale(0.967,1.061)" font-size="28" text-anchor="start" stroke="#000" stroke-width="0.9">−</text>
<rect x="42" y="671" width="574" height="37" fill="#fff" stroke="#000" stroke-width="2" shape-rendering="crispEdges"/>
<path d="M46.8,688.4 H109.5" stroke="#0000ff" stroke-width="5" fill="none" stroke-dasharray="20 7.6 5.2 7.6"/>
<path d="M203.8,688.4 H266.5" stroke="#ff0000" stroke-width="5" fill="none" stroke-dasharray="28.4 8.4"/>
<path d="M359.9,688.4 H422.59999999999997" stroke="#000000" stroke-width="5" fill="none"/>
<path d="M526.9,688.4 H590.9" stroke="#00ff00" stroke-width="5" fill="none" stroke-dasharray="47.2 7.6"/>
<text class="i" transform="translate(119.83,699.40) scale(1,1)" font-size="28" text-anchor="start">K</text>
<text class="i" transform="translate(138.30,699.40) scale(1,1.05)" font-size="24" text-anchor="start">20</text>
<text transform="translate(161.30,699.40) scale(1,1.05)" font-size="24" text-anchor="start">,</text>
<text transform="translate(169.10,697.90) scale(1.32,1.1)" font-size="24" text-anchor="start">-</text>
<text transform="translate(181.10,699.40) scale(1,1.05)" font-size="24" text-anchor="start">1</text>
<text class="i" transform="translate(275.63,699.40) scale(1,1)" font-size="28" text-anchor="start">K</text>
<text transform="translate(294.20,699.40) scale(1,1.05)" font-size="24" text-anchor="start">50</text>
<text transform="translate(317.60,699.40) scale(1,1.05)" font-size="24" text-anchor="start">,</text>
<text transform="translate(325.40,697.90) scale(1.32,1.1)" font-size="24" text-anchor="start">-</text>
<text transform="translate(337.40,699.40) scale(1,1.05)" font-size="24" text-anchor="start">1</text>
<text class="i" transform="translate(431.63,699.40) scale(1,1)" font-size="28" text-anchor="start">K</text>
<text transform="translate(449.60,699.40) scale(1,1.05)" font-size="24" text-anchor="start">100</text>
<text transform="translate(485.60,699.40) scale(1,1.05)" font-size="24" text-anchor="start">,</text>
<text transform="translate(493.40,697.90) scale(1.32,1.1)" font-size="24" text-anchor="start">-</text>
<text transform="translate(505.40,699.40) scale(1,1.05)" font-size="24" text-anchor="start">1</text>
<text transform="translate(598.90,699.80) scale(1.2,1.0)" font-size="28" text-anchor="start">f</text>
</svg></body></html>
